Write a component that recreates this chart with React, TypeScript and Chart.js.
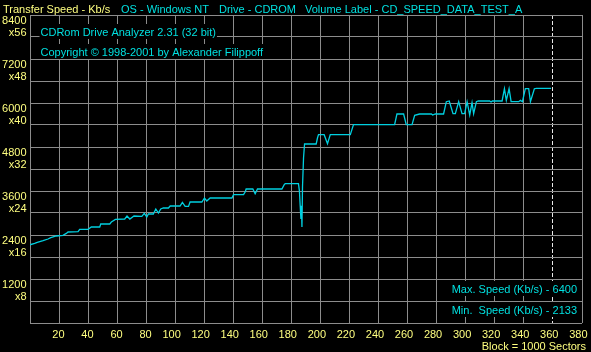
import React, { useEffect, useRef } from "react";
import { Chart, registerables } from "chart.js";

Chart.register(...registerables);

const blocks = [0,3.2,5.0,9.0,12.4,14.3,18.1,22.7,25.0,26.2,33.1,34.2,40.0,42.2,48.0,48.7,54.9,56.0,58.8,65.2,66.8,68.7,71.6,77.0,78.7,80.4,81.5,84.9,86.6,88.4,90.0,91.8,95.3,96.5,103.3,104.9,106.8,109.1,110.2,118.3,120.1,121.7,124.0,139.0,140.1,147.0,148.1,148.8,153.4,155.0,156.6,173.4,175.0,175.7,184.8,185.5,186.0,186.5,186.9,187.2,187.6,188.3,189.0,197.0,197.9,198.6,202.5,204.8,206.7,220.5,222.7,251.0,252.6,257.2,259.0,263.0,264.8,268.2,276.3,277.2,279.0,284.7,286.6,288.6,291.2,292.8,295.1,297.4,299.2,300.9,302.7,304.3,305.4,307.3,308.6,316.4,317.4,318.3,325.0,326.6,327.9,329.8,331.2,336.4,337.6,339.0,341.0,343.3,344.5,347.2,348.6,358.7];
const speeds = [2133,2171,2198,2245,2291,2326,2373,2389,2444,2482,2490,2553,2553,2618,2618,2700,2700,2755,2825,2836,2918,2836,2918,2910,2989,2891,2973,2973,3109,3000,3109,3136,3136,3191,3191,3289,3180,3180,3300,3300,3409,3327,3409,3409,3499,3499,3573,3655,3655,3527,3655,3655,3773,3800,3800,3589,3200,2836,3200,2618,3725,4500,4882,4882,5045,5136,5136,4890,5136,5136,5409,5409,5700,5700,5409,5409,5662,5700,5700,5673,5700,5700,6036,6055,5708,5708,6036,5708,5708,6036,5673,6008,5708,6036,6055,6055,6027,6055,6055,6390,6071,6390,6036,6036,6071,6036,6390,6390,6036,6390,6400,6400];

const xTickValues = [20,40,60,80,100,120,140,160,180,200,220,240,260,280,300,320,340,360,380];
const yTickValues = [1200,2400,3600,4800,6000,7200,8400];
const yTickLabels = ["1200","2400","3600","4800","6000","7200","8400"];
const yMultLabels = ["x8","x16","x24","x32","x40","x48","x56"];

const headerTitle = "Transfer Speed - Kb/s";
const headerItems = ["OS - Windows NT", "Drive - CDROM", "Volume Label - CD_SPEED_DATA_TEST_A"];
const infoLines = ["CDRom Drive Analyzer 2.31 (32 bit)", "Copyright \u00A9 1998-2001 by Alexander Filippoff"];
const statLines = ["Max. Speed (Kb/s) - 6400", "Min.  Speed (Kb/s) - 2133"];
const unitLabel = "Block = 1000 Sectors";
const dashedAt = 360;

const YELLOW = "#ffff80";
const CYAN = "#00e0e0";
const LINE = "#00d0e0";
const GRID = "#8c8c8c";
const FONT = '11px "Liberation Sans", Arial, sans-serif';

const overlay = {
  id: "overlay",
  afterDraw(chart: any) {
    const ctx = chart.ctx as CanvasRenderingContext2D;
    const xs = chart.scales.x;
    const ys = chart.scales.y;
    const area = chart.chartArea;
    ctx.save();
    ctx.font = FONT;
    ctx.textBaseline = "alphabetic";

    const boxText = (t: string, x: number, base: number, align: CanvasTextAlign) => {
      const w = ctx.measureText(t).width;
      const left = align === "right" ? x - w : x;
      ctx.fillStyle = "#000";
      ctx.fillRect(left - 1, base - 12, w + 2, 15);
      ctx.fillStyle = CYAN;
      ctx.textAlign = align;
      ctx.fillText(t, x, base);
    };

    // header
    ctx.textAlign = "left";
    ctx.fillStyle = YELLOW;
    ctx.fillText(headerTitle, 3, 12.5);
    ctx.fillStyle = CYAN;
    const hx = [121, 219, 305];
    headerItems.forEach((t, i) => ctx.fillText(t, hx[i], 12.5));

    // info inside plot
    boxText(infoLines[0], area.left + 10.5, 36, "left");
    boxText(infoLines[1], area.left + 10.5, 56, "left");
    boxText(statLines[0], area.right - 5, 293, "right");
    boxText(statLines[1], area.right - 5, 314, "right");

    // y labels
    ctx.fillStyle = YELLOW;
    ctx.textAlign = "right";
    yTickValues.forEach((v, i) => {
      const py = ys.getPixelForValue(v);
      ctx.fillText(yTickLabels[i], 26.5, py + 9);
      ctx.fillText(yMultLabels[i], 26.5, py + 21);
    });

    // x labels
    xTickValues.forEach((v) => {
      const px = xs.getPixelForValue(v);
      ctx.fillText(String(v), px + 5.5, 338);
    });
    ctx.fillText(unitLabel, 586, 350);
    ctx.restore();
  },
};

export default function App() {
  const ref = useRef<HTMLCanvasElement>(null);
  useEffect(() => {
    document.body.style.margin = "0";
    document.body.style.background = "#000";
    const data = blocks.map((b, i) => ({ x: b, y: speeds[i] }));
    const chart = new Chart(ref.current!, {
      type: "line",
      data: {
        datasets: [
          {
            data,
            borderColor: LINE,
            borderWidth: 1.3,
            pointRadius: 0,
            tension: 0,
            fill: false,
          },
        ],
      },
      options: {
        responsive: false,
        animation: false,
        events: [],
        layout: { padding: { left: 30, right: 9, top: 15, bottom: 29 } },
        plugins: { legend: { display: false }, tooltip: { enabled: false } },
        scales: {
          x: {
            type: "linear",
            min: 0,
            max: 380,
            ticks: { stepSize: 20, display: false },
            grid: {
              drawTicks: false,
              color: (c: any) => (c.tick && c.tick.value === dashedAt ? "#e8e8e8" : GRID),
              lineWidth: 1,
            },
            border: {
              display: false,
              dash: (c: any) => (c.tick && c.tick.value === dashedAt ? [4, 2] : []),
            },
          },
          y: {
            type: "linear",
            min: 0,
            max: 8400,
            ticks: { stepSize: 600, display: false },
            grid: { drawTicks: false, color: GRID, lineWidth: 1 },
            border: { display: false },
          },
        },
      },
      plugins: [overlay],
    } as any);
    return () => chart.destroy();
  }, []);
  return (
    <canvas
      ref={ref}
      width={591}
      height={352}
      style={{ display: "block", width: 591, height: 352, background: "#000" }}
    />
  );
}
